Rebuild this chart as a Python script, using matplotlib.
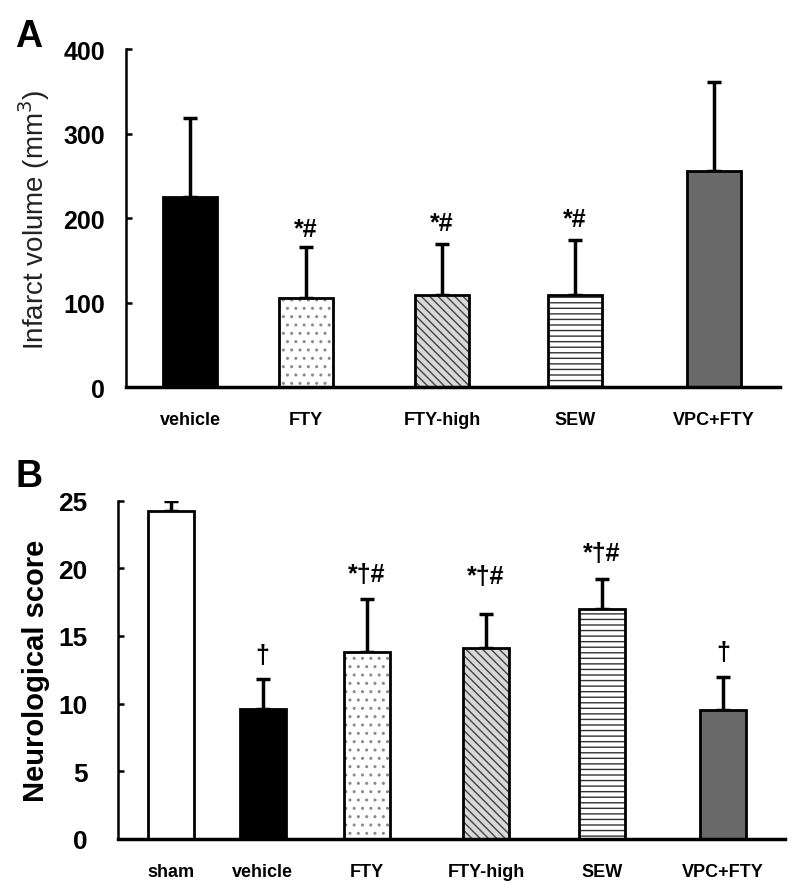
import numpy as np
import matplotlib
matplotlib.use('Agg')
import matplotlib.pyplot as plt

plt.rcParams['font.family'] = ['Liberation Sans', 'DejaVu Sans']
plt.rcParams['hatch.linewidth'] = 1.0

# panel A data
groups_a = ['vehicle', 'FTY', 'FTY-high', 'SEW', 'VPC+FTY']
infarct = [225, 106, 109, 109, 256]
infarct_err = [93, 60, 61, 65, 105]
marks_a = ['', '*#', '*#', '*#', '']
mark_y_a = [0, 187, 194, 199, 0]

# panel B data
groups_b = ['sham', 'vehicle', 'FTY', 'FTY-high', 'SEW', 'VPC+FTY']
score = [24.2, 9.6, 13.85, 14.1, 17.0, 9.55]
score_err = [0.8, 2.2, 3.9, 2.5, 2.2, 2.4]
marks_b = ['', '†', '*†#', '*†#', '*†#', '†']
mark_y_b = [0, 13.6, 19.6, 19.4, 21.1, 13.8]

# layout positions (not data)
pos_a = [0.512, 1.44, 2.528, 3.592, 4.704]
pos_b = [0.457, 1.257, 2.165, 3.2, 4.209, 5.261]

styles = {
    'sham': dict(fc='white', hatch=None, hc='black'),
    'vehicle': dict(fc='black', hatch=None, hc='black'),
    'FTY': dict(fc='white', hatch='..', hc='#8a8a8a'),
    'FTY-high': dict(fc='#d8d8d8', hatch='\\\\\\\\', hc='#444444'),
    'SEW': dict(fc='white', hatch='---', hc='#333333'),
    'VPC+FTY': dict(fc='#6a6a6a', hatch=None, hc='black'),
}


def draw_panel(ax, pos, names, vals, errs, width, marks, mark_y, tick_fs, tick_pad):
    for x, name, v, e in zip(pos, names, vals, errs):
        st = styles[name]
        # error bar (upper only)
        ax.errorbar(x, v, yerr=[[0], [e]], fmt='none', ecolor='black',
                    elinewidth=2.5, capsize=5, capthick=2.5, zorder=1)
        ax.bar(x, v, width=width, color=st['fc'], edgecolor=st['hc'],
               hatch=st['hatch'], linewidth=0, zorder=2)
        ax.bar(x, v, width=width, fill=False, edgecolor='black',
               linewidth=2, zorder=3)
    for x, m, y in zip(pos, marks, mark_y):
        if m:
            ax.text(x, y, m, ha='center', va='center', fontsize=18,
                    fontweight='bold', zorder=4)
    ax.set_xticks(pos)
    ax.set_xticklabels(names, fontsize=13, fontweight='bold')
    ax.tick_params(axis='x', length=0, pad=17)
    ax.tick_params(axis='y', direction='in', length=4, width=1.8,
                   labelsize=tick_fs, pad=tick_pad)
    for lab in ax.get_yticklabels():
        lab.set_fontweight('bold')
    ax.spines['top'].set_visible(False)
    ax.spines['right'].set_visible(False)
    ax.spines['left'].set_linewidth(1.8)
    ax.spines['bottom'].set_linewidth(2.5)


fig = plt.figure(figsize=(8, 8.95), dpi=100)

ax1 = fig.add_axes([0.1575, 0.566, 0.8175, 0.378])
draw_panel(ax1, pos_a, groups_a, infarct, infarct_err, 0.432, marks_a, mark_y_a, 18, 15)
ax1.set_xlim(0, 5.23)
ax1.set_ylim(0, 400)
ax1.set_yticks([0, 100, 200, 300, 400])
ax1.set_ylabel('Infarct volume (mm$^3$)', fontsize=20, color='#222222', labelpad=8)

ax2 = fig.add_axes([0.1475, 0.0615, 0.8337, 0.378])
draw_panel(ax2, pos_b, groups_b, score, score_err, 0.40, marks_b, mark_y_b, 19, 22)
ax2.set_xlim(0, 5.8)
ax2.set_ylim(0, 25)
ax2.set_yticks([0, 5, 10, 15, 20, 25])
ax2.set_ylabel('Neurological score', fontsize=21, fontweight='bold', labelpad=6)

fig.text(0.019, 0.947, 'A', fontsize=27, fontweight='bold')
fig.text(0.02, 0.456, 'B', fontsize=27, fontweight='bold')

fig.savefig('out.png', dpi=100)
